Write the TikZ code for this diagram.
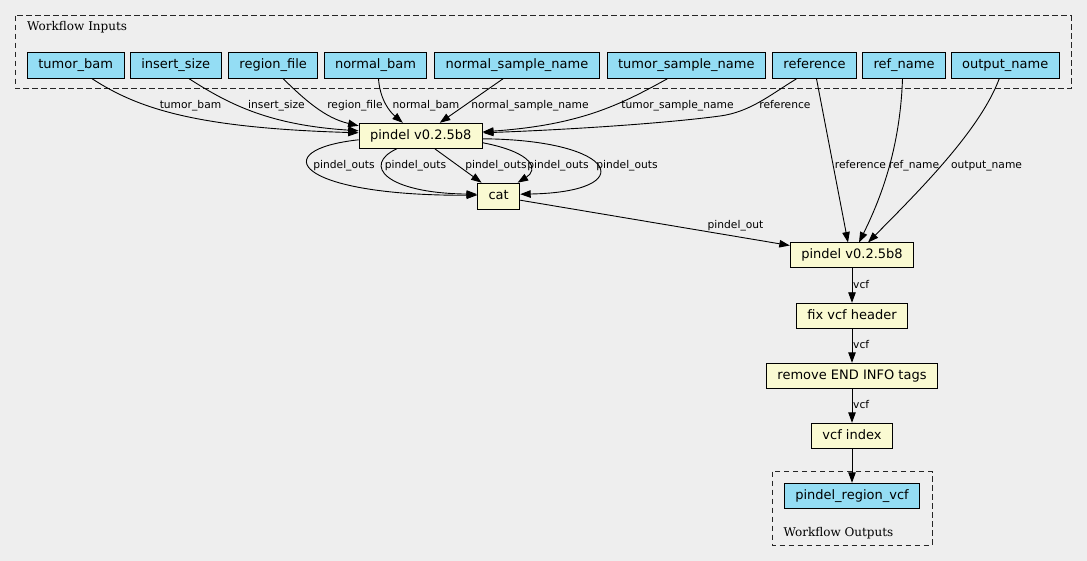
\documentclass[tikz,border=0pt]{standalone}
\usepackage{fontspec}
\setmainfont{DejaVu Sans}
\newfontfamily\clusterfont{DejaVu Serif}
\usetikzlibrary{arrows.meta}
\definecolor{bgcol}{HTML}{EEEEEE}
\definecolor{inputcol}{HTML}{94DDF4}
\definecolor{stepcol}{HTML}{FAFAD2}

\begin{document}
\begin{tikzpicture}[x=1pt, y=-1pt,
    inputbox/.style={draw=black, fill=inputcol, line width=1pt,
        font=\fontsize{13}{15}\selectfont, inner xsep=11pt, inner ysep=0pt,
        text height=9.5pt, text depth=2.5pt, minimum height=26pt},
    stepbox/.style={inputbox, fill=stepcol, minimum height=25pt},
    edgelbl/.style={font=\fontsize{10.7}{12}\selectfont, inner sep=0pt},
    flow/.style={line width=0.9pt, -{Triangle[length=10.5pt,width=7.5pt]}},
    cluster/.style={draw=black!85, line width=1pt, dash pattern=on 5.5pt off 3.5pt}]
    % Background
    \fill[bgcol] (0,0) rectangle (1087,561);
    \useasboundingbox (0,0) rectangle (1087,561);

    % Clusters
    \draw[cluster] (15.7,15.7) rectangle (1071,89);
    \node[anchor=base west, inner sep=0pt, font=\clusterfont\fontsize{12}{14}\selectfont] (inlbl) at (27,31) {Workflow Inputs};
    \draw[cluster] (772,471.7) rectangle (932.3,545);
    \node[anchor=base west, inner sep=0pt, font=\clusterfont\fontsize{12}{14}\selectfont] (outlbl) at (783.3,536) {Workflow Outputs};

    % Inputs
    \foreach \id/\cx/\txt in {tumorbam/75.7/tumor\_bam, insertsize/175.7/insert\_size,
        regionfile/273.2/region\_file, normalbam/375.5/normal\_bam,
        normalsample/517/normal\_sample\_name, tumorsample/686.3/tumor\_sample\_name,
        reference/814.5/reference, refname/904/ref\_name, outputname/1005.2/output\_name} {
        \node[inputbox] (\id) at (\cx,65.3) {\txt};
    }

    % Steps
    \node[stepbox] (pindel) at (420.8,135.8) {pindel v0.2.5b8};
    \node[stepbox, minimum height=26pt] (cat) at (498.6,196.2) {cat};
    \node[stepbox] (pindelvcf) at (852,255.5) {pindel v0.2.5b8};
    \node[stepbox] (fixheader) at (852,315.8) {fix vcf header};
    \node[stepbox] (removetags) at (852,375.8) {remove END INFO tags};
    \node[stepbox] (vcfindex) at (852,435.8) {vcf index};

    % Output
    \node[inputbox, minimum height=25pt] (regionvcf) at (852,495.8) {pindel\_region\_vcf};

    % Inputs to pindel
    \draw[flow] ([xshift=16.5pt]tumorbam.south) .. controls (140,110) and (200,128) .. ([yshift=3pt]pindel.west);
    \draw[flow] ([xshift=13.5pt]insertsize.south) .. controls (230,105) and (270,125) .. ([yshift=5pt]pindel.west);
    \draw[flow] ([xshift=10pt]regionfile.south) .. controls (305,100) and (325,118) .. ([yshift=10pt]pindel.west);
    \draw[flow] ([xshift=3pt]normalbam.south) .. controls (380,100) and (390,112) .. ([xshift=-18pt]pindel.north);
    \draw[flow] ([xshift=-14pt]normalsample.south) -- ([xshift=19pt]pindel.north);
    \draw[flow] ([xshift=-19pt]tumorsample.south) .. controls (620,105) and (580,125) .. ([yshift=4pt]pindel.east);
    \draw[flow] ([xshift=-18pt]reference.south) .. controls (770,95) and (750,112) .. (720,116)
        .. controls (660,124) and (560,130) .. ([yshift=3pt]pindel.east);

    % pindel to cat
    \draw[flow] ([yshift=-4pt]pindel.west) .. controls (265,150) and (295,196) .. ([yshift=1pt]cat.west);
    \draw[flow] ([xshift=-24pt]pindel.south) .. controls (362,165) and (385,193) .. ([yshift=2pt]cat.west);
    \draw[flow] ([xshift=14pt]pindel.south) -- ([xshift=-17pt]cat.north);
    \draw[flow] ([yshift=-7pt]pindel.east) .. controls (535,153) and (538,170) .. ([xshift=19pt]cat.north);
    \draw[flow] ([yshift=-3pt]pindel.east) .. controls (620,140) and (640,192) .. ([yshift=2pt]cat.east);

    % Into second pindel
    \draw[flow] ([yshift=-4pt]cat.east) -- ([yshift=10pt]pindelvcf.west);
    \draw[flow] ([xshift=2pt]reference.south) -- ([xshift=-4pt]pindelvcf.north);
    \draw[flow] ([xshift=-1.5pt]refname.south) .. controls (900,150) and (880,200) .. ([xshift=7pt]pindelvcf.north);
    \draw[flow] ([xshift=-6pt]outputname.south) .. controls (980,130) and (920,190) .. ([xshift=16pt]pindelvcf.north);

    % Chain down
    \draw[flow] (pindelvcf) -- (fixheader);
    \draw[flow] (fixheader) -- (removetags);
    \draw[flow] (removetags) -- (vcfindex);
    \draw[flow] (vcfindex) -- (regionvcf);

    % Edge labels
    \foreach \id/\cx/\txt in {tb/190.5/tumor\_bam, is/276.5/insert\_size, rf/355/region\_file,
        nb/426/normal\_bam, nsn/530/normal\_sample\_name, tsn/677.5/tumor\_sample\_name,
        ref/785/reference} {
        \node[edgelbl, anchor=base] (lbl-\id) at (\cx,108.5) {\txt};
    }
    \foreach \id/\cx in {po1/344, po2/415.5, po3/496, po4/558, po5/627} {
        \node[edgelbl, anchor=base] (lbl-\id) at (\cx,168.3) {pindel\_outs};
    }
    \foreach \id/\cx/\txt in {refb/860.5/reference, rn/914/ref\_name, on/986.5/output\_name} {
        \node[edgelbl, anchor=base] (lbl-\id) at (\cx,168.3) {\txt};
    }
    \node[edgelbl, anchor=base] (lbl-po) at (735.5,228.3) {pindel\_out};
    \foreach \id/\cy in {v1/288.3, v2/348.7, v3/408.7} {
        \node[edgelbl, anchor=base west] (lbl-\id) at (853,\cy) {vcf};
    }
\end{tikzpicture}
\end{document}
